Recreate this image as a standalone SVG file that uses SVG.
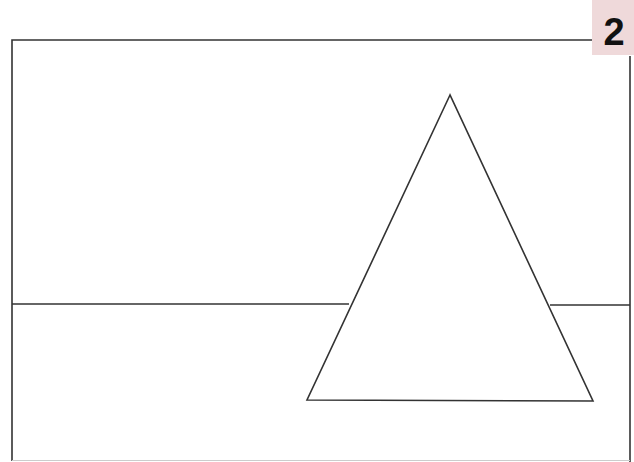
<svg xmlns="http://www.w3.org/2000/svg" width="634" height="462" viewBox="0 0 634 462">
<style>
.ln{fill:none;stroke:#333;stroke-width:1.6;stroke-linejoin:miter}
.faint{fill:none;stroke:#ccc;stroke-width:1.2}
.lbl{font-family:"Liberation Sans",Arial,sans-serif;font-weight:bold;font-size:38px;fill:#111}
</style>
<rect width="634" height="462" fill="#fff"/>
<g id="frame">
<polyline class="ln" points="592,40 12,40 12,461"/>
<line class="ln" x1="630" y1="56" x2="630" y2="462"/>
<line class="faint" x1="12" y1="460.5" x2="630" y2="460.5"/>
</g>
<g id="horizon">
<line class="ln" x1="12" y1="304" x2="349" y2="304"/>
<line class="ln" x1="550" y1="305" x2="630" y2="305"/>
</g>
<g id="triangle">
<polygon class="ln" points="450,95 307,400 593,401"/>
</g>
<g id="label">
<rect x="592" y="0" width="42" height="55" fill="#efd9da"/>
<text class="lbl" x="614" y="45" text-anchor="middle">2</text>
</g>
</svg>
